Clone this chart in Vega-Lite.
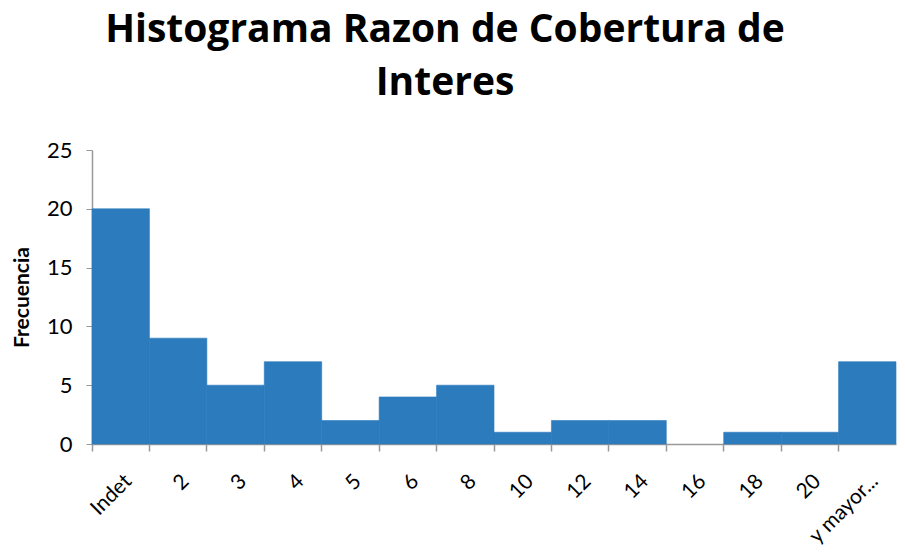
{
  "$schema": "https://vega.github.io/schema/vega-lite/v6.json",
  "autosize": {"type": "none"},
  "width": 804,
  "height": 294,
  "padding": {"left": 92, "top": 150, "right": 9, "bottom": 110},
  "background": "white",
  "title": {
    "text": ["Histograma Razon de Cobertura de", "Interes"],
    "font": "Open Sans",
    "fontSize": 39,
    "fontWeight": "bold",
    "color": "black",
    "anchor": "middle",
    "lineHeight": 53,
    "dx": -49,
    "offset": 36
  },
  "data": {
    "values": [
      {"clase": "Indet", "frecuencia": 20},
      {"clase": "2", "frecuencia": 9},
      {"clase": "3", "frecuencia": 5},
      {"clase": "4", "frecuencia": 7},
      {"clase": "5", "frecuencia": 2},
      {"clase": "6", "frecuencia": 4},
      {"clase": "8", "frecuencia": 5},
      {"clase": "10", "frecuencia": 1},
      {"clase": "12", "frecuencia": 2},
      {"clase": "14", "frecuencia": 2},
      {"clase": "16", "frecuencia": 0},
      {"clase": "18", "frecuencia": 1},
      {"clase": "20", "frecuencia": 1},
      {"clase": "y mayor...", "frecuencia": 7}
    ]
  },
  "config": {"view": {"stroke": null}},
  "layer": [
    {
      "mark": {"type": "bar", "color": "#2b7bbd", "stroke": "#2b7bbd", "strokeWidth": 0.6},
      "encoding": {
        "x": {
          "field": "clase",
          "type": "nominal",
          "sort": null,
          "scale": {"paddingInner": 0, "paddingOuter": 0},
          "axis": {
            "title": null,
            "labelAngle": -45,
            "labelFont": "Lato",
            "labelFontSize": 21,
            "labelColor": "black",
            "labelPadding": 26,
            "ticks": false,
            "domainColor": "#999999",
            "domainWidth": 1.5
          }
        },
        "y": {
          "field": "frecuencia",
          "type": "quantitative",
          "scale": {"domain": [0, 25], "nice": false},
          "axis": {
            "title": "Frecuencia",
            "titleFont": "Lato",
            "titleFontSize": 21,
            "titleFontWeight": "bold",
            "titleColor": "black",
            "titlePadding": 14,
            "values": [0, 5, 10, 15, 20, 25],
            "grid": false,
            "labelFont": "Lato",
            "labelFontSize": 22,
            "labelColor": "black",
            "labelPadding": 14,
            "tickColor": "#999999",
            "tickSize": 6,
            "domainColor": "#999999",
            "domainWidth": 1.5
          }
        },
        "strokeOpacity": {
          "condition": {"test": "datum.frecuencia > 0", "value": 1},
          "value": 0
        }
      }
    },
    {
      "mark": {"type": "bar", "opacity": 0},
      "encoding": {
        "x": {
          "field": "clase",
          "type": "nominal",
          "sort": null,
          "axis": {
            "orient": "bottom",
            "title": null,
            "labels": false,
            "domain": false,
            "bandPosition": 0,
            "tickColor": "#999999",
            "tickSize": 7,
            "tickWidth": 1.5
          }
        },
        "y": {
          "field": "frecuencia",
          "type": "quantitative",
          "scale": {"domain": [0, 25], "nice": false}
        }
      }
    }
  ],
  "resolve": {"axis": {"x": "independent"}}
}
